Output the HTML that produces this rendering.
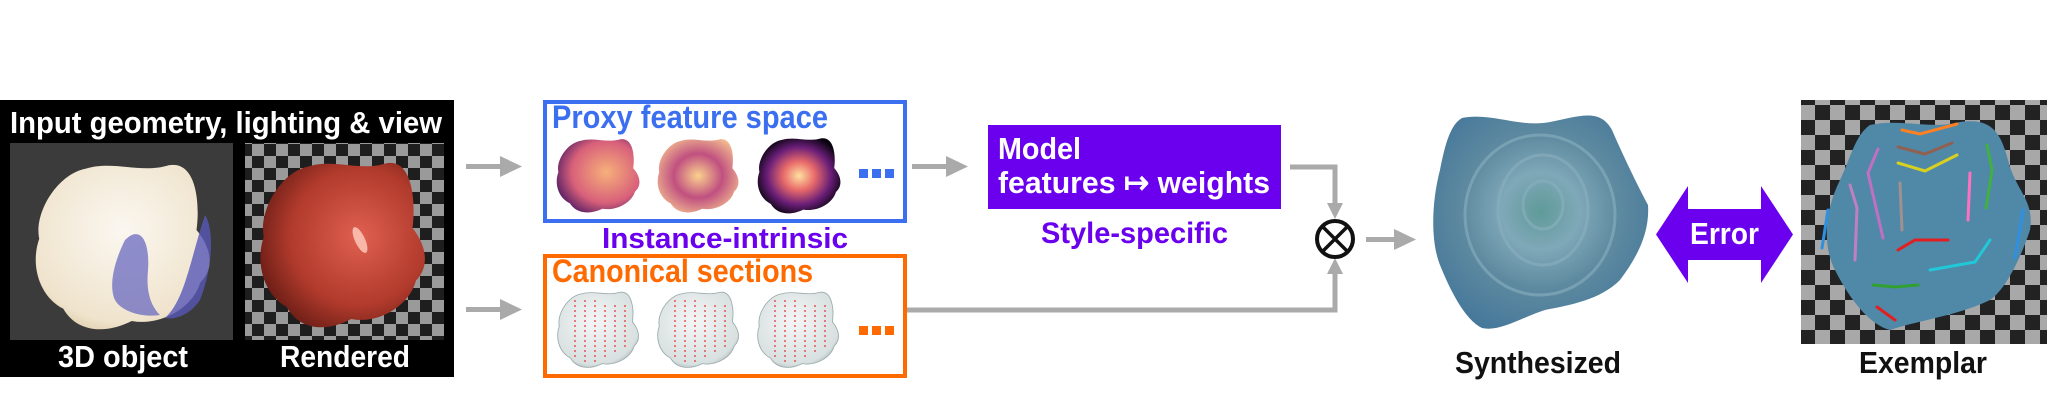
<!DOCTYPE html>
<html><head><meta charset="utf-8"><style>
html,body{margin:0;padding:0;background:#fff;}
body{width:2047px;height:413px;overflow:hidden;position:relative;}
svg{position:absolute;left:0;top:0;}
text{font-family:"Liberation Sans Narrow","Liberation Sans",sans-serif;font-weight:bold;}
</style></head><body>
<svg width="2047" height="413" viewBox="0 0 2047 413" xmlns="http://www.w3.org/2000/svg">
<defs>
<pattern id="chk" width="24" height="24" patternUnits="userSpaceOnUse">
<rect width="24" height="24" fill="#9a9a9a"/><rect width="12" height="12" fill="#1e1e1e"/><rect x="12" y="12" width="12" height="12" fill="#1e1e1e"/>
</pattern>
<pattern id="chk2" width="30" height="30" patternUnits="userSpaceOnUse">
<rect width="30" height="30" fill="#a8a8a8"/><rect width="15" height="15" fill="#222"/><rect x="15" y="15" width="15" height="15" fill="#222"/>
</pattern>
<path id="blob" d="M30,5 C45,0 60,8 75,3 C90,0 92,25 90,40 C98,50 100,62 92,70 C88,85 70,95 55,92 C40,100 25,98 18,85 C5,78 0,60 5,45 C2,30 15,8 30,5Z"/>
<radialGradient id="g1" cx="0.6" cy="0.45" r="0.7"><stop offset="0" stop-color="#f7b07a"/><stop offset="0.6" stop-color="#d8607a"/><stop offset="1" stop-color="#3a1060"/></radialGradient>
<radialGradient id="g2" cx="0.5" cy="0.5" r="0.6"><stop offset="0" stop-color="#fbd18e"/><stop offset="0.5" stop-color="#c05080"/><stop offset="1" stop-color="#f5c090"/></radialGradient>
<radialGradient id="g3" cx="0.5" cy="0.5" r="0.55"><stop offset="0" stop-color="#ffe0a0"/><stop offset="0.35" stop-color="#e86a6a"/><stop offset="0.7" stop-color="#6a1e78"/><stop offset="1" stop-color="#0a0410"/></radialGradient>
<radialGradient id="gw" cx="0.45" cy="0.4" r="0.7"><stop offset="0" stop-color="#f4f6f6"/><stop offset="0.8" stop-color="#d8e0e0"/><stop offset="1" stop-color="#9aa4a8"/></radialGradient>
<radialGradient id="gr" cx="0.6" cy="0.45" r="0.7"><stop offset="0" stop-color="#e06050"/><stop offset="0.6" stop-color="#b03a2c"/><stop offset="1" stop-color="#5a1610"/></radialGradient>
<radialGradient id="gm" cx="0.5" cy="0.4" r="0.7"><stop offset="0" stop-color="#fbf7f0"/><stop offset="0.8" stop-color="#efe3cc"/><stop offset="1" stop-color="#d9c49c"/></radialGradient>
<radialGradient id="gb" cx="0.5" cy="0.45" r="0.6"><stop offset="0" stop-color="#5f9a98"/><stop offset="0.3" stop-color="#7fa8b8"/><stop offset="0.6" stop-color="#5e8aa0"/><stop offset="1" stop-color="#46789a"/></radialGradient>
</defs>

<!-- Left black panel -->
<rect x="0" y="100" width="454" height="277" fill="#000"/>
<text x="10" y="133" font-size="31" fill="#fff" textLength="432" lengthAdjust="spacingAndGlyphs">Input geometry, lighting &amp; view</text>
<rect x="10" y="143" width="223" height="197" fill="#3b3b3b"/>
<use href="#blob" transform="translate(30,160) scale(1.85,1.75)" fill="url(#gm)"/>
<path d="M125,240 C140,225 150,240 148,270 C146,290 150,305 160,315 C140,318 120,310 115,300 C108,285 115,260 125,240Z" fill="#6a6ac0" opacity="0.75"/>
<path d="M205,215 C215,230 212,270 200,300 C190,315 175,320 165,318 C185,300 190,260 205,215Z" fill="#5858b8" opacity="0.8"/>
<rect x="245" y="143" width="199" height="197" fill="url(#chk)"/>
<use href="#blob" transform="translate(255,158) scale(1.75,1.75)" fill="url(#gr)"/>
<ellipse cx="360" cy="240" rx="5" ry="14" fill="#ffd0c0" opacity="0.8" transform="rotate(-25 360 240)"/>
<text x="58" y="367" font-size="31" fill="#fff" textLength="130" lengthAdjust="spacingAndGlyphs">3D object</text>
<text x="280" y="367" font-size="31" fill="#fff" textLength="130" lengthAdjust="spacingAndGlyphs">Rendered</text>

<!-- arrows left -->
<g fill="#aaa">
<rect x="466" y="164" width="36" height="5"/><polygon points="500,156 522,166.5 500,177"/>
<rect x="466" y="307" width="36" height="5"/><polygon points="500,299 522,309.5 500,320"/>
<rect x="912" y="164" width="36" height="5"/><polygon points="946,156 968,166.5 946,177"/>
</g>

<!-- Blue box -->
<rect x="545" y="102" width="360" height="119" fill="#fff" stroke="#3b6ff0" stroke-width="4"/>
<text x="552" y="128" font-size="32" fill="#3b6ff0" textLength="276" lengthAdjust="spacingAndGlyphs" font-family="Liberation Sans">Proxy feature space</text>
<use href="#blob" transform="translate(554,137) scale(0.88,0.78)" fill="url(#g1)"/>
<use href="#blob" transform="translate(655,137) scale(0.86,0.78)" fill="url(#g2)"/>
<use href="#blob" transform="translate(755,136) scale(0.88,0.8)" fill="url(#g3)"/>
<g fill="#3b6ff0"><rect x="859" y="169" width="9" height="9"/><rect x="872" y="169" width="9" height="9"/><rect x="885" y="169" width="9" height="9"/></g>

<text x="602" y="248" font-size="29" fill="#6a00ee" textLength="246" lengthAdjust="spacingAndGlyphs" font-family="Liberation Sans">Instance-intrinsic</text>

<!-- Orange box -->
<rect x="545" y="256" width="360" height="120" fill="#fff" stroke="#ff6a00" stroke-width="4"/>
<text x="552" y="282" font-size="32" fill="#ff6a00" textLength="261" lengthAdjust="spacingAndGlyphs" font-family="Liberation Sans">Canonical sections</text>
<use href="#blob" transform="translate(555,290) scale(0.86,0.8)" fill="url(#gw)" stroke="#9aa" stroke-width="1"/>
<use href="#blob" transform="translate(655,290) scale(0.86,0.8)" fill="url(#gw)" stroke="#9aa" stroke-width="1"/>
<use href="#blob" transform="translate(755,290) scale(0.86,0.8)" fill="url(#gw)" stroke="#9aa" stroke-width="1"/>
<g fill="none" stroke="#e83030" stroke-width="1.5" stroke-dasharray="2 3" opacity="0.8">
<path d="M575,300 V360 M585,300 V362 M595,300 V362 M605,305 V360 M615,305 V355 M625,305 V350"/>
<path d="M675,300 V360 M685,300 V362 M695,300 V362 M705,305 V360 M715,305 V355 M725,305 V350"/>
<path d="M775,300 V360 M785,300 V362 M795,300 V362 M805,305 V360 M815,305 V355 M825,305 V350"/>
</g>
<g fill="#ff6a00"><rect x="859" y="326" width="9" height="9"/><rect x="872" y="326" width="9" height="9"/><rect x="885" y="326" width="9" height="9"/></g>

<!-- Purple model box -->
<rect x="988" y="125" width="293" height="84" fill="#6a00ee"/>
<text x="998" y="159" font-size="31" fill="#fff" textLength="83" lengthAdjust="spacingAndGlyphs">Model</text>
<text x="998" y="193" font-size="31" fill="#fff" textLength="272" lengthAdjust="spacingAndGlyphs">features ↦ weights</text>
<text x="1041" y="243" font-size="30" fill="#6a00ee" textLength="187" lengthAdjust="spacingAndGlyphs">Style-specific</text>

<!-- connectors to multiply -->
<g fill="none" stroke="#aaa" stroke-width="5">
<polyline points="1290,167 1335,167 1335,205"/>
<polyline points="907,310 1335,310 1335,272"/>
</g>
<g fill="#aaa">
<polygon points="1327,203 1343,203 1335,219"/>
<polygon points="1327,274 1343,274 1335,258"/>
<rect x="1366" y="237" width="30" height="5"/><polygon points="1394,229 1416,239.5 1394,250"/>
</g>
<circle cx="1335" cy="239" r="18" fill="#fff" stroke="#111" stroke-width="4"/>
<path d="M1323,227 L1347,251 M1347,227 L1323,251" stroke="#111" stroke-width="3.5"/>

<!-- Synthesized -->
<path d="M1462,118 C1490,112 1520,128 1550,122 C1580,116 1600,108 1612,130 C1625,160 1640,190 1648,205 C1650,235 1635,260 1620,280 C1600,300 1570,305 1545,310 C1520,318 1500,332 1482,328 C1465,320 1450,290 1440,265 C1430,240 1432,200 1440,170 C1445,145 1450,125 1462,118Z" fill="url(#gb)"/>
<g fill="none" stroke="#8ab0c0" stroke-width="3" opacity="0.6">
<ellipse cx="1543" cy="205" rx="20" ry="24"/><ellipse cx="1543" cy="210" rx="45" ry="55"/><ellipse cx="1540" cy="215" rx="75" ry="80"/>
</g>
<text x="1455" y="373" font-size="31" fill="#111" textLength="166" lengthAdjust="spacingAndGlyphs">Synthesized</text>

<!-- Error double arrow -->
<polygon points="1656,234.5 1688,186 1688,209 1761,209 1761,186 1793,234.5 1761,283 1761,260 1688,260 1688,283" fill="#6a00ee"/>
<text x="1690" y="244" font-size="31" fill="#fff" textLength="69" lengthAdjust="spacingAndGlyphs">Error</text>

<!-- Exemplar -->
<rect x="1801" y="100" width="246" height="244" fill="url(#chk2)"/>
<path d="M1870,125 C1900,118 1930,130 1960,122 C1990,118 2000,130 2008,160 C2015,190 2035,200 2030,230 C2020,260 2005,290 1990,300 C1960,315 1920,320 1890,330 C1870,325 1850,300 1835,270 C1822,245 1825,210 1840,180 C1850,160 1855,135 1870,125Z" fill="#5088a8"/>
<g fill="none" stroke-width="3" stroke-linecap="round">
<path d="M1902,130 L1920,134 L1957,124" stroke="#ff8020"/>
<path d="M1898,147 L1925,154 L1952,143" stroke="#906050"/>
<path d="M1898,163 L1925,171 L1957,155" stroke="#d8d020"/>
<path d="M1878,149 L1868,173 L1883,238" stroke="#c070c0"/>
<path d="M1850,185 L1857,208 L1855,260" stroke="#c080c0"/>
<path d="M1900,183 L1902,230" stroke="#a09090"/>
<path d="M1970,173 L1968,220" stroke="#ff70c0"/>
<path d="M1987,145 L1992,170 L1986,208" stroke="#40b040"/>
<path d="M1898,250 L1915,240 L1948,240" stroke="#e02020"/>
<path d="M1930,270 L1975,262 L1990,240" stroke="#20c8d8"/>
<path d="M1873,285 L1895,287 L1918,285" stroke="#30a030"/>
<path d="M1877,307 L1895,320" stroke="#e02020"/>
<path d="M1828,210 L1822,248" stroke="#3090e0"/>
<path d="M2023,210 L2015,258" stroke="#3090e0"/>
</g>
<text x="1859" y="373" font-size="31" fill="#111" textLength="128" lengthAdjust="spacingAndGlyphs">Exemplar</text>
</svg>
</body></html>
